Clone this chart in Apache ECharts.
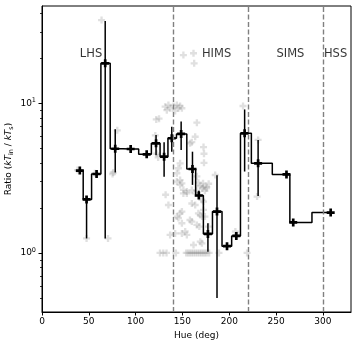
<!DOCTYPE html>
<html>
<head>
<meta charset="utf-8">
<script src="https://cdn.jsdelivr.net/npm/echarts@6/dist/echarts.min.js"></script>
<style>
html, body { margin: 0; padding: 0; background: #fff; }
#chart { width: 357px; height: 347px; }
</style>
</head>
<body>
<div id="chart"></div>
<script>
// binned ratio (step line + error bars)
const binHue   = [40.4, 47.6, 58.3, 67.5, 78.2, 94.7, 111.8, 121.8, 130.4, 138.6, 148.6, 160.7, 167.5, 177.2, 186.9, 197.6, 207.5, 216.4, 230.8, 261.1, 268.3, 308.3];
const binRatio = [3.55, 2.28, 3.37, 18.5, 4.97, 4.95, 4.56, 5.4, 4.4, 5.84, 6.24, 3.64, 2.42, 1.34, 1.89, 1.11, 1.30, 6.3, 3.97, 3.35, 1.60, 1.86];
const binLow   = [3.45, 1.25, 3.25, 1.25, 3.45, 4.8, 4.4, 4.5, 3.23, 4.75, 4.87, 2.85, 2.3, 1.02, 0.50, 1.06, 1.24, 3.5, 2.40, 3.25, 1.55, 1.8];
const binHigh  = [3.65, 2.4, 3.5, 35.5, 6.7, 5.1, 4.7, 6.15, 5.5, 6.97, 7.55, 4.75, 2.6, 1.58, 3.3, 1.16, 1.37, 9.1, 5.69, 3.45, 1.65, 1.92];

// individual observations (grey markers)
const obsHue = [
  37.9, 47.6, 56.5, 63.6, 70.5, 75.4, 76.1, 80.4,
  121, 122, 125, 131.5, 133.3, 135, 136.8, 140.4, 142.2, 144, 145.7, 147.5, 149.4,
  151, 161.8, 162.5, 165.4, 214.7, 163.6, 160, 158.2, 172.5, 173, 173,
  147.5, 145.7, 144, 122.5, 124, 147.5, 151, 154.7,
  165.4, 167, 169, 171, 174, 176, 165, 178, 160, 163.6, 172.5,
  132, 135, 149.4, 147.5, 151, 154.7, 170.8, 172.5, 160, 163.6,
  144, 145.7, 149.4, 160, 158, 167, 169, 171, 165.4, 168,
  136.8, 149.4, 152.9, 154.7, 161.8, 169, 170.8, 144, 147.5, 142.2, 149.4,
  172.5, 174, 177.8, 206.5, 208.3, 229.7, 185, 172, 175.5, 230.8,
  126, 129.5, 133, 143, 154, 156, 158, 160, 162, 164, 166, 168, 170, 172, 174, 176, 178.5, 189, 219
];
const obsRatio = [
  3.58, 1.25, 3.41, 36.0, 1.25, 3.37, 3.45, 6.6,
  6.1, 7.8, 7.9, 9.5, 9.0, 9.75, 9.27, 9.6, 8.9, 9.75, 9.27, 9.6, 9.27,
  21, 21.6, 18.5, 7.42, 9.6, 5.98, 5.5, 5.4, 5.1, 4.6, 4.0,
  3.97, 3.68, 3.41, 4.6, 4.35, 3.07, 2.64, 2.57,
  3.25, 2.95, 2.8, 2.7, 2.6, 2.75, 2.6, 2.9, 2.63, 2.5, 2.77,
  2.45, 2.09, 2.92, 2.85, 2.5, 2.5, 2.26, 2.2, 2.14, 2.09,
  1.75, 1.71, 1.89, 1.62, 1.66, 1.84, 1.79, 1.75, 1.54, 1.50,
  1.32, 1.35, 1.39, 1.32, 1.13, 1.19, 1.16, 3.0, 1.84, 1.35, 1.58,
  1.94, 1.75, 1.50, 1.39, 1.32, 2.38, 3.32, 2.92, 2.70, 5.69,
  1, 1, 1, 1, 1, 1, 1, 1, 1, 1, 1, 1, 1, 1, 1, 1, 1, 1, 1
];

const stateBounds = [140, 220, 300];
const stateNames = ['LHS', 'HIMS', 'SIMS', 'HSS'];
const stateLabelHue = [40.4, 170.8, 250.4, 301.1];
const stateLabelRatio = 21.3;

const yMajorTicks = [1, 10];
const yMinorTicks = [0.5, 0.6, 0.7, 0.8, 0.9, 2, 3, 4, 5, 6, 7, 8, 9, 20, 30, 40];

const font = 'DejaVu Sans';
const plusPath = 'path://M1,0H2V1H3V2H2V3H1V2H0V1H1Z';

const chart = echarts.init(document.getElementById('chart'));
chart.setOption({
  animation: false,
  grid: {
    left: 42, right: 6, top: 6, bottom: 35,
    containLabel: false, outerBoundsMode: 'none',
    show: true, borderColor: '#000', borderWidth: 1
  },
  xAxis: {
    type: 'value', min: 0, max: 330, interval: 50,
    name: 'Hue (deg)', nameLocation: 'middle', nameGap: 19,
    nameTextStyle: { fontFamily: font, fontSize: 9, color: '#000' },
    axisLine: { show: true, onZero: false, lineStyle: { color: '#000', width: 1 } },
    axisTick: { show: true, inside: false, length: 3.5, lineStyle: { color: '#000', width: 1 } },
    axisLabel: { fontFamily: font, fontSize: 9, color: '#000', margin: 5, showMaxLabel: false },
    splitLine: { show: false }
  },
  yAxis: [{
    type: 'log', logBase: 10, min: 0.403, max: 44.7, position: 'left',
    name: '{n|Ratio (}{i|kT}{s|in}{n| / }{i|kT}{s|s}{n|)}',
    nameLocation: 'middle', nameGap: 27, nameMoveOverlap: false,
    nameTextStyle: {
      rich: {
        n: { fontFamily: font, fontSize: 9, color: '#000', lineHeight: 13 },
        i: { fontFamily: font, fontSize: 9, color: '#000', fontStyle: 'italic', lineHeight: 13 },
        s: { fontFamily: font, fontSize: 6.5, color: '#000', verticalAlign: 'bottom', lineHeight: 9 }
      }
    },
    axisLine: { show: true, lineStyle: { color: '#000', width: 1 } },
    axisTick: { show: true, inside: false, length: 3.5, customValues: yMajorTicks, lineStyle: { color: '#000', width: 1 } },
    axisLabel: {
      customValues: yMajorTicks, margin: 6,
      formatter: v => '{b|10}{e|' + Math.round(Math.log10(v)) + '}',
      rich: {
        b: { fontFamily: font, fontSize: 9, color: '#000', lineHeight: 13 },
        e: { fontFamily: font, fontSize: 6.5, color: '#000', verticalAlign: 'top', lineHeight: 8 }
      }
    },
    minorTick: { show: false },
    splitLine: { show: false }
  }, {
    type: 'log', logBase: 10, min: 0.403, max: 44.7, position: 'left',
    axisLine: { show: false },
    axisTick: { show: true, inside: false, length: 2, customValues: yMinorTicks, lineStyle: { color: '#000', width: 0.8 } },
    axisLabel: { show: false },
    splitLine: { show: false }
  }],
  series: [{
    type: 'scatter',
    data: obsHue.map((h, i) => [h, obsRatio[i]]),
    symbol: plusPath, symbolSize: 7,
    itemStyle: { color: 'rgba(128,128,128,0.3)' },
    z: 1,
    markLine: {
      silent: true, symbol: ['none', 'none'], label: { show: false },
      lineStyle: { color: '#808080', type: [5, 2.5], width: 1.4 },
      data: stateBounds.map(v => ({ xAxis: v }))
    }
  }, {
    type: 'custom',
    data: binHue.map((h, i) => [h, binLow[i], binHigh[i]]),
    encode: { x: 0, y: [1, 2] },
    z: 3,
    renderItem: (params, api) => {
      const top = api.coord([api.value(0), api.value(2)]);
      const bot = api.coord([api.value(0), api.value(1)]);
      return {
        type: 'line',
        shape: { x1: top[0], y1: top[1], x2: bot[0], y2: bot[1] },
        style: { stroke: '#000', lineWidth: 1.5 }
      };
    }
  }, {
    type: 'line', step: 'middle',
    data: binHue.map((h, i) => [h, binRatio[i]]),
    symbol: plusPath, symbolSize: 8, showSymbol: true,
    itemStyle: { color: '#000' },
    lineStyle: { color: '#000', width: 1.5 },
    z: 4
  }, {
    type: 'scatter',
    data: stateLabelHue.map((h, i) => [h, stateLabelRatio, stateNames[i]]),
    symbolSize: 0,
    label: {
      show: true, position: 'right', distance: 0,
      formatter: p => p.data[2],
      fontFamily: font, fontSize: 11.5, color: '#000'
    },
    z: 5
  }]
});
</script>
</body>
</html>
